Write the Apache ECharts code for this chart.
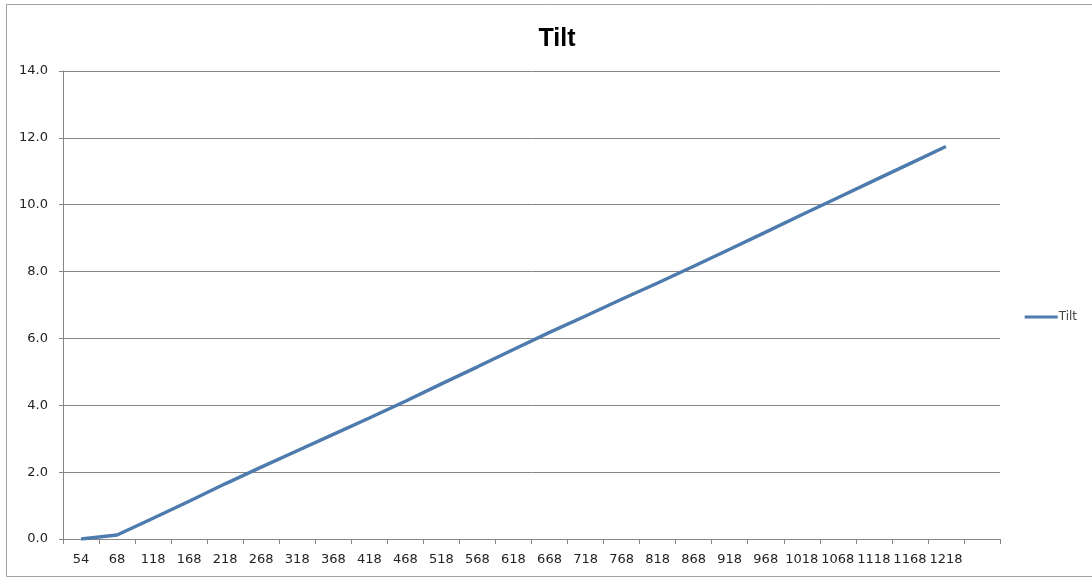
<!DOCTYPE html>
<html>
<head>
<meta charset="utf-8">
<script src="https://cdn.jsdelivr.net/npm/echarts@6/dist/echarts.min.js"></script>
<style>
html,body{margin:0;padding:0;background:#fff;}
#c{width:1092px;height:577px;}
</style>
</head>
<body>
<div id="c"></div>
<script>
const categories = ['54','68','118','168','218','268','318','368','418','468','518','568','618','668','718','768','818','868','918','968','1018','1068','1118','1168','1218',''];
const tilt = [0.0,0.12,0.62,1.13,1.65,2.15,2.64,3.13,3.62,4.12,4.64,5.15,5.67,6.18,6.67,7.17,7.66,8.16,8.67,9.18,9.70,10.21,10.72,11.23,11.74,null];
const yTicks = {min:0, max:14, interval:2};

const chart = echarts.init(document.getElementById('c'), null, {renderer:'canvas'});
chart.setOption({
  animation:false,
  backgroundColor:'#fff',
  title:{
    text:'Tilt', left:552, top:34, textAlign:'center', textVerticalAlign:'middle',
    textStyle:{fontFamily:'Liberation Sans', fontWeight:'bold', fontSize:25, color:'#000'}
  },
  graphic:[{
    type:'rect', shape:{x:6.5,y:4.5,width:1100,height:572},
    style:{fill:'none', stroke:'#a0a0a0', lineWidth:1}, silent:true
  }],
  legend:{
    right:10, top:306, orient:'vertical',
    itemWidth:33, itemHeight:3, itemGap:2,
    icon:'rect',
    textStyle:{fontFamily:'DejaVu Sans', fontSize:12, color:'#444', padding:[0,0,0,-4]},
    data:['Tilt']
  },
  grid:{left:63, right:92, top:71, bottom:38},
  xAxis:{
    type:'category', data:categories, boundaryGap:true,
    axisLine:{lineStyle:{color:'#868686', width:1}},
    axisTick:{show:true, interval:0, length:5, lineStyle:{color:'#868686'}},
    axisLabel:{interval:0, margin:14, fontFamily:'DejaVu Sans', fontSize:13, color:'#222'},
    splitLine:{show:false}
  },
  yAxis:{
    type:'value', min:yTicks.min, max:yTicks.max, interval:yTicks.interval,
    axisLine:{show:true, lineStyle:{color:'#868686', width:1}},
    axisTick:{show:true, length:4, lineStyle:{color:'#868686'}},
    axisLabel:{margin:15, fontFamily:'DejaVu Sans', fontSize:13, color:'#222', formatter:v=>v.toFixed(1)},
    splitLine:{show:true, lineStyle:{color:'#868686', width:1}}
  },
  series:[{
    name:'Tilt', type:'line', data:tilt, showSymbol:false, symbol:'none',
    lineStyle:{color:'#4E7BAD', width:3.4},
    itemStyle:{color:'#4E7BAD'}
  }]
});
</script>
</body>
</html>
